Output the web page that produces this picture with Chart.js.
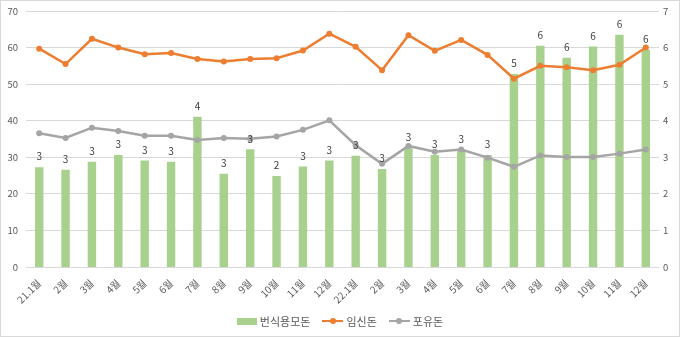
<!DOCTYPE html>
<html lang="ko">
<head>
<meta charset="utf-8">
<script src="https://cdn.jsdelivr.net/npm/chart.js@4.4.1/dist/chart.umd.min.js"></script>
<style>
  html, body { margin: 0; padding: 0; background: #fff; }
  #wrap { position: relative; width: 680px; height: 337px; box-sizing: border-box; border: 1px solid #d9d9d9; background: #fff; }
  #c { position: absolute; left: 0; top: 0; }
  #legend { position: absolute; left: 0; right: 0; top: 312px; display: flex; justify-content: center; align-items: center; gap: 12px;
    font: 11px "Noto Sans CJK KR", sans-serif; color: #595959; }
  .item { display: flex; align-items: center; gap: 3px; }
  .box { width: 20px; height: 7px; background: #a9d18e; }
  .ln { position: relative; width: 21px; height: 2.5px; }
  .ln i { position: absolute; left: 7.5px; top: -2.25px; width: 6px; height: 6px; border-radius: 50%; background: inherit; }
</style>
</head>
<body>
<div id="wrap">
  <canvas id="c" width="678" height="335"></canvas>
  <div id="legend">
    <div class="item"><span class="box"></span>번식용모돈</div>
    <div class="item"><span class="ln" style="background:#ed7d31"><i></i></span>임신돈</div>
    <div class="item"><span class="ln" style="background:#a5a5a5"><i></i></span>포유돈</div>
  </div>
</div>
<script>
  "use strict";
  // 월별 라벨 (21년 1월 ~ 22년 12월)
  const months = ["21.1월", "2월", "3월", "4월", "5월", "6월", "7월", "8월", "9월", "10월", "11월", "12월",
                  "22.1월", "2월", "3월", "4월", "5월", "6월", "7월", "8월", "9월", "10월", "11월", "12월"];
  // 번식용모돈 (오른쪽 축)
  const sows = [2.73, 2.66, 2.88, 3.06, 2.91, 2.88, 4.11, 2.55, 3.22, 2.49, 2.75, 2.91,
                3.04, 2.68, 3.25, 3.06, 3.20, 3.06, 5.28, 6.05, 5.72, 6.03, 6.35, 5.94];
  // 임신돈 (왼쪽 축)
  const pregnant = [59.7, 55.5, 62.4, 60.0, 58.2, 58.5, 56.9, 56.2, 56.9, 57.1, 59.2, 63.8,
                    60.2, 53.8, 63.4, 59.1, 62.1, 58.0, 51.5, 55.0, 54.6, 53.8, 55.3, 60.0];
  // 포유돈 (왼쪽 축)
  const lactating = [36.6, 35.3, 38.1, 37.2, 35.9, 35.9, 34.7, 35.3, 35.1, 35.7, 37.5, 40.1,
                     33.3, 28.2, 33.1, 31.5, 32.1, 29.9, 27.4, 30.5, 30.1, 30.1, 31.0, 32.1];

  const FONT = "'Noto Sans CJK KR', sans-serif";
  const GRID = "#d9d9d9", TXT = "#595959";

  // 막대 위 값 표시 (정수 반올림)
  const barLabels = {
    id: "barLabels",
    afterDatasetsDraw(chart) {
      const ctx = chart.ctx;
      const idx = chart.data.datasets.findIndex(d => d.type === "bar");
      const meta = chart.getDatasetMeta(idx);
      ctx.save();
      ctx.font = "10px " + FONT;
      ctx.fillStyle = "#404040";
      ctx.textAlign = "center";
      ctx.textBaseline = "middle";
      meta.data.forEach((bar, i) => ctx.fillText(String(Math.round(sows[i])), bar.x, bar.y - 10.5));
      ctx.restore();
    }
  };

  // y축 폭 고정, 위쪽 여백은 layout.padding으로만
  function fixY(w) {
    return s => { s.width = w; s.paddingTop = 0; s.paddingBottom = 0; };
  }

  new Chart(document.getElementById("c"), {
    type: "bar",
    data: {
      labels: months,
      datasets: [
        { type: "line", label: "임신돈", data: pregnant, yAxisID: "y", borderColor: "#ed7d31", backgroundColor: "#ed7d31",
          borderWidth: 2.5, pointRadius: 3, pointBorderWidth: 0, tension: 0, order: 1 },
        { type: "line", label: "포유돈", data: lactating, yAxisID: "y", borderColor: "#a5a5a5", backgroundColor: "#a5a5a5",
          borderWidth: 2.5, pointRadius: 3, pointBorderWidth: 0, tension: 0, order: 2 },
        { type: "bar", label: "번식용모돈", data: sows, yAxisID: "y1", backgroundColor: "#a9d18e",
          barPercentage: 0.32, categoryPercentage: 1, order: 3 }
      ]
    },
    options: {
      responsive: false,
      animation: false,
      layout: { padding: { top: 10, bottom: 31, left: 0, right: 0 } },
      plugins: { legend: { display: false }, tooltip: { enabled: false } },
      scales: {
        x: {
          grid: { display: false },
          border: { display: false },
          ticks: { color: TXT, font: { size: 10, family: FONT }, maxRotation: 45, minRotation: 45, autoSkip: false, padding: 2 },
          afterFit(s) { s.height = 38; s.paddingLeft = 0; s.paddingRight = 0; }
        },
        y: {
          position: "left", min: 0, max: 70,
          grid: { color: GRID, drawTicks: false },
          border: { display: false },
          ticks: { stepSize: 10, color: TXT, font: { size: 9.5, family: FONT }, padding: 8 },
          afterFit: fixY(25)
        },
        y1: {
          position: "right", min: 0, max: 7,
          grid: { display: false, drawTicks: false },
          border: { display: false },
          ticks: { stepSize: 1, color: TXT, font: { size: 9.5, family: FONT }, padding: 4 },
          afterFit: fixY(20)
        }
      }
    },
    plugins: [barLabels]
  });
</script>
</body>
</html>
